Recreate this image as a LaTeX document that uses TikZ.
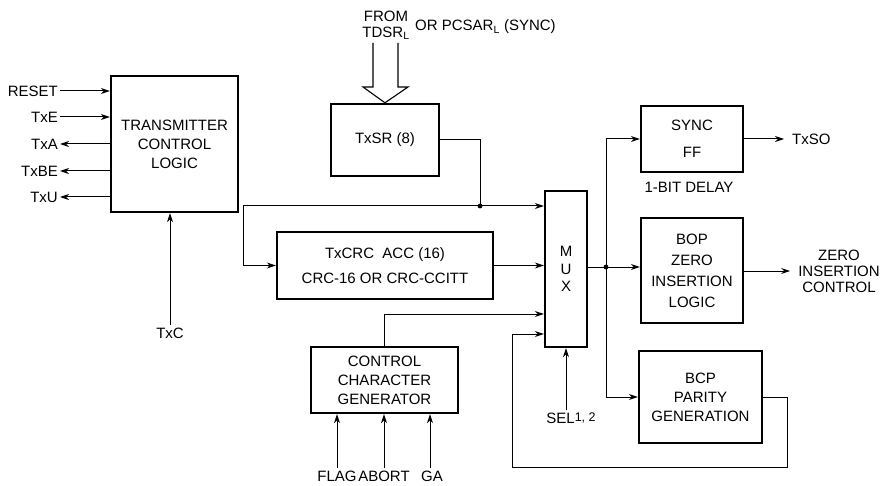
\documentclass[tikz,border=0pt]{standalone}
\usepackage{fontspec}
\setmainfont{Liberation Sans}
\usetikzlibrary{arrows.meta}
\begin{document}
\begin{tikzpicture}[x=1pt,y=-1pt,
  every node/.style={font=\fontsize{15}{19}\selectfont},
  blk/.style={draw, line width=2.4pt, inner sep=0pt, align=center},
  lbl/.style={inner sep=2pt, align=center},
  wire/.style={line width=1pt},
  arr/.style={wire, -{Stealth[length=9pt,width=6pt]}},
  rarr/.style={wire, {Stealth[length=9pt,width=6pt]}-}]
\useasboundingbox (0,0) rectangle (885,486);
% blocks
\node[blk, minimum width=127pt, minimum height=136pt] (tcl) at (174.5,144) {TRANSMITTER\\CONTROL\\LOGIC};
\node[blk, minimum width=108pt, minimum height=72pt] (txsr) at (385,140) {TxSR (8)};
\node[blk, minimum width=216pt, minimum height=67pt] (crc) at (385,265.5) {TxCRC\ \ ACC (16)\\[6pt]CRC-16 OR CRC-CCITT};
\node[blk, minimum width=42pt, minimum height=156pt, font=\fontsize{15}{17.5}\selectfont] (mux) at (566,269) {M\\U\\X};
\node[blk, minimum width=147pt, minimum height=66pt] (ccg) at (384.5,380) {CONTROL\\CHARACTER\\GENERATOR};
\node[blk, minimum width=102pt, minimum height=66pt] (sync) at (692,139) {SYNC\\[8pt]FF};
\node[blk, minimum width=102pt, minimum height=105pt, font=\fontsize{15}{21}\selectfont] (bop) at (692,270.5) {BOP\\ZERO\\INSERTION\\LOGIC};
\node[blk, minimum width=123pt, minimum height=92pt] (bcp) at (700.5,397) {BCP\\PARITY\\GENERATION};
% left labels
\node[lbl, anchor=east] (reset) at (60,91) {RESET};
\node[lbl, anchor=east] (txe) at (60,117) {TxE};
\node[lbl, anchor=east] (txa) at (60,144) {TxA};
\node[lbl, anchor=east] (txbe) at (60,171) {TxBE};
\node[lbl, anchor=east] (txu) at (60,197) {TxU};
\draw[arr] (reset) -- (reset -| tcl.west);
\draw[arr] (txe) -- (txe -| tcl.west);
\draw[rarr] (txa) -- (txa -| tcl.west);
\draw[rarr] (txbe) -- (txbe -| tcl.west);
\draw[rarr] (txu) -- (txu -| tcl.west);
\node[lbl] (txc) at (170,333) {TxC};
\draw[arr] (txc) -- (txc |- tcl.south);
% top input
\node[lbl, font=\fontsize{15}{16}\selectfont] (from) at (386,25) {FROM\\TDSR\textsubscript{L}};
\node[lbl, anchor=west] (pcsar) at (413,27) {OR PCSAR\textsubscript{L} (SYNC)};
\draw[line width=1.1pt, fill=white] (373,43) -- (373,87) -- (363,87) -- (txsr.north) -- (408,87) -- (398,87) -- (398,43);
% TxSR output and loop to CRC
\coordinate (j1) at (480,206);
\coordinate (c1) at (243,206);
\draw[wire] (txsr.east) -| (j1);
\draw[arr] (j1) -- (j1 -| mux.west);
\draw[arr] (j1) -- (c1) |- (crc.west);
\fill (j1) circle (2.4pt);
\draw[arr] (crc.east) -- (crc.east -| mux.west);
\draw[arr] (ccg.north) |- (mux.west |- 0,314);
% BCP feedback
\coordinate (fb1) at (787,467);
\coordinate (fb2) at (512,467);
\draw[arr] (bcp.east) -| (fb1) -- (fb2) |- (mux.west |- 0,334);
% SEL
\node[lbl] (sel) at (571,418) {SEL{\fontsize{12.5}{12.5}\selectfont\raisebox{2.5pt}{1, 2}}};
\draw[arr] (sel.north -| mux.south) -- (mux.south);
% CCG inputs
\node[lbl] (flag) at (337,476) {FLAG};
\node[lbl] (abort) at (384,476) {ABORT};
\node[lbl] (ga) at (432,476) {GA};
\draw[arr] (flag.north -| 337,0) -- (337,0 |- ccg.south);
\draw[arr] (abort) -- (abort |- ccg.south);
\draw[arr] (ga.north -| 430,0) -- (430,0 |- ccg.south);
% MUX output distribution
\coordinate (j2) at (606,267);
\draw[wire] (mux.east |- j2) -- (j2);
\draw[arr] (j2) -- (j2 -| bop.west);
\draw[arr] (j2) |- (sync.west);
\draw[arr] (j2) |- (bcp.west);
\fill (j2) circle (2.4pt);
% outputs
\node[lbl, anchor=west] (txso) at (790,139) {TxSO};
\draw[arr, shorten >=6pt] (sync.east) -- (txso.west);
\node[lbl] (delay) at (689,187) {1-BIT DELAY};
\node[lbl, font=\fontsize{15}{16}\selectfont] (zic) at (839,271) {ZERO\\INSERTION\\CONTROL};
\draw[arr, shorten >=6pt] (bop.east |- zic) -- (zic.west);
\end{tikzpicture}
\end{document}
